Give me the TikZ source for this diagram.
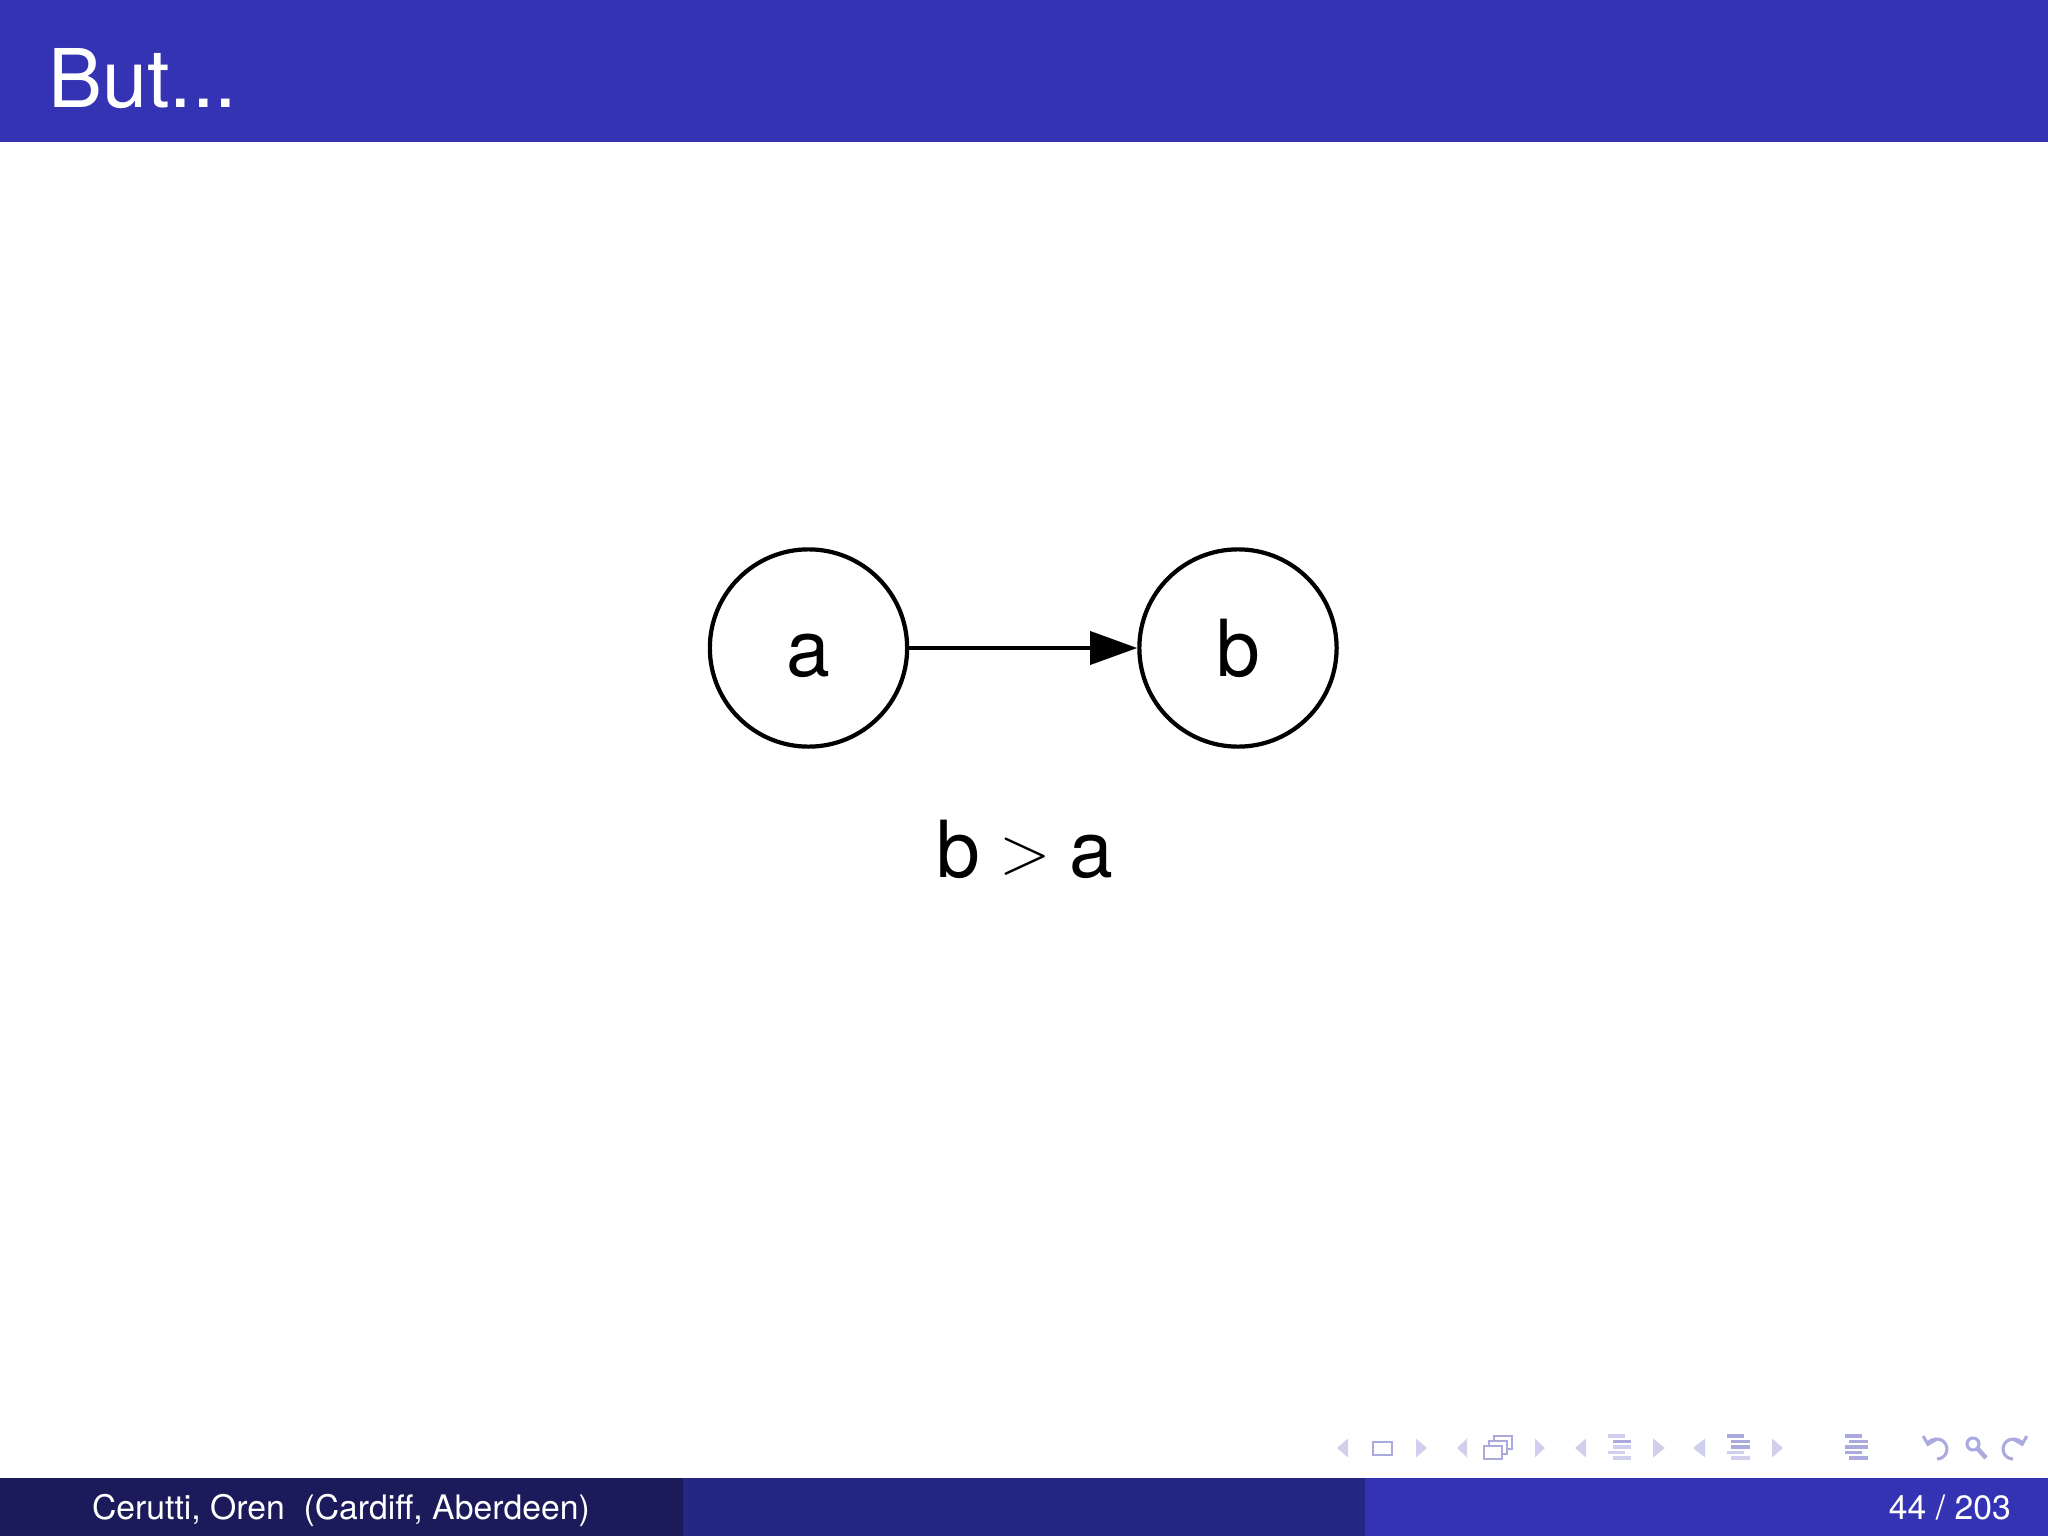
\documentclass[tikz,border=0pt]{standalone}
\usepackage{fontspec}
\setmainfont{TeX Gyre Heros}
\usetikzlibrary{arrows.meta}
\definecolor{struct}{RGB}{51,51,179}
\definecolor{footdark}{RGB}{27,27,92}
\definecolor{footmid}{RGB}{38,38,132}
\definecolor{navA}{RGB}{208,208,238}
\definecolor{navB}{RGB}{170,170,222}
\begin{document}
\begin{tikzpicture}[x=0.0625mm,y=-0.0625mm,
  vert/.style={circle,draw,line width=0.75pt,minimum size=12.33mm,inner sep=0pt,
    font=\fontsize{14}{16}\selectfont,text height=10.14pt,text depth=0pt},
  edge/.style={line width=0.7pt,-{Triangle[length=2.94mm,width=2.06mm]}},
  navtri/.style={fill=navA},
  navbox/.style={draw=navB,line width=0.5pt,fill=white},
  navbar/.style={line width=0.7pt},
  navarc/.style={draw=navB,line width=0.55pt},
  ]
\useasboundingbox (0,0) rectangle (2048,1536);
% header
\fill[struct] (0,0) rectangle (2048,142);
\node[anchor=base west,inner sep=0pt,text=white,font=\fontsize{14.4}{17}\selectfont] (title) at (47,107) {But...};
% graph
\node[vert] (a) at (808.5,648) {a};
\node[vert] (b) at (1238,648) {b};
\draw[edge] (a) -- (b);
\node[anchor=base,inner sep=0pt,font=\fontsize{14}{16}\selectfont] (rel) at (1025,877) {b\hspace{3.3pt}\raisebox{0.6pt}{\fontsize{12.6}{14}\selectfont$>$}\hspace{3.3pt}a};
% footer
\fill[footdark] (0,1478) rectangle (682.67,1536);
\fill[footmid] (682.67,1478) rectangle (1365.33,1536);
\fill[struct] (1365.33,1478) rectangle (2048,1536);
\node[anchor=base,inner sep=0pt,text=white,font=\fontsize{6}{7}\selectfont] (author) at (341,1519) {Cerutti, Oren\ \ (Cardiff, Aberdeen)};
\node[anchor=base east,inner sep=0pt,text=white,font=\fontsize{6}{7}\selectfont] (page) at (2012,1519) {44 / 203};
% navigation symbols
\foreach \l/\r in {1337/1348,1457/1467,1575/1586,1693/1705}
  \fill[navtri] (\r,1438.5) -- (\r,1457.5) -- (\l,1448) -- cycle;
\foreach \l/\r in {1416/1427,1535/1545,1653/1665,1772/1783}
  \fill[navtri] (\l,1438.5) -- (\l,1457.5) -- (\r,1448) -- cycle;
\draw[navbox] (1373,1442) rectangle (1392,1455);
\draw[navbox] (1494,1436) rectangle (1512,1449);
\draw[navbox] (1489,1441) rectangle (1507,1454);
\draw[navbox] (1484,1446) rectangle (1502,1459);
% section/subsection icons
\draw[navbar,navA] (1608,1436) -- (1625,1436);
\draw[navbar,navB] (1613,1441.5) -- (1631,1441.5);
\draw[navbar,navA] (1613,1447) -- (1631,1447);
\draw[navbar,navA] (1608,1452.5) -- (1625,1452.5);
\draw[navbar,navA] (1613,1458) -- (1631,1458);
\draw[navbar,navB] (1727,1436) -- (1744,1436);
\draw[navbar,navB] (1731,1441.5) -- (1750,1441.5);
\draw[navbar,navB] (1731,1447) -- (1750,1447);
\draw[navbar,navA] (1727,1452.5) -- (1744,1452.5);
\draw[navbar,navA] (1731,1458) -- (1750,1458);
\draw[navbar,navB] (1845,1436) -- (1862,1436);
\draw[navbar,navB] (1849,1441.5) -- (1868,1441.5);
\draw[navbar,navB] (1845,1447) -- (1868,1447);
\draw[navbar,navB] (1845,1452.5) -- (1862,1452.5);
\draw[navbar,navB] (1849,1458) -- (1868,1458);
% back, search, forward
\draw[navarc,{Straight Barb[length=1.2pt,width=2.4pt]}-] (1937,1449) ++(195:10) arc[start angle=195,end angle=450,radius=10];
\draw[navarc] (1973,1444) circle[radius=6];
\draw[navarc,line width=0.8pt] (1977.5,1448.5) -- (1986,1458);
\draw[navarc,{Straight Barb[length=1.2pt,width=2.4pt]}-] (2013,1449) ++(-15:10) arc[start angle=-15,end angle=-270,radius=10];
\end{tikzpicture}
\end{document}
